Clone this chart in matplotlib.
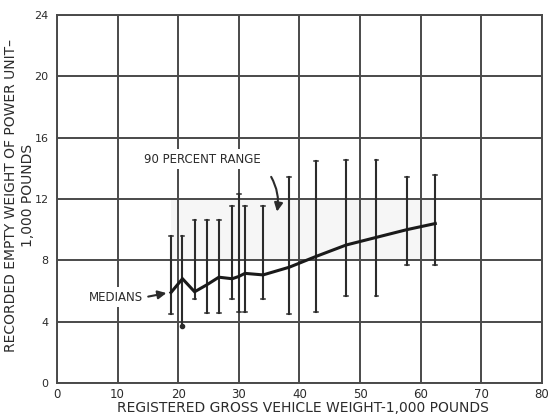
import matplotlib
matplotlib.use("Agg")
import matplotlib.pyplot as plt
from matplotlib.patches import FancyArrowPatch

# Registered gross vehicle weight (1,000 lb) for each weight class
gvw = [18.8, 20.7, 22.7, 24.7, 26.7, 28.9, 30.0, 31.0, 34.0, 38.3, 42.7, 47.7, 52.7, 57.7, 62.4]
# Upper and lower limits of the 90 percent range (1,000 lb)
range_high = [9.6, 9.6, 10.6, 10.6, 10.6, 11.55, 12.3, 11.55, 11.55, 13.45, 14.5, 14.55, 14.55, 13.45, 13.55]
range_low = [4.5, 3.7, 5.5, 4.55, 4.55, 5.5, 4.6, 4.65, 5.5, 4.5, 4.6, 5.7, 5.7, 7.7, 7.7]
# Median empty weight of power unit (1,000 lb)
medians = [5.9, 6.8, 5.95, 6.4, 6.9, 6.8, 6.95, 7.15, 7.05, 7.55, 8.25, 9.0, 9.5, 10.0, 10.4]

x_ticks = [0, 10, 20, 30, 40, 50, 60, 70, 80]
y_ticks = [0, 4, 8, 12, 16, 20, 24]

ink = "#2b2b2b"
grid_col = "#4a4a4a"

fig = plt.figure(figsize=(5.51, 4.16), dpi=100)
ax = fig.add_axes([0.1034, 0.0793, 0.8803, 0.8847])

ax.set_xlim(0, 80)
ax.set_ylim(0, 24)
ax.set_xticks(x_ticks)
ax.set_yticks(y_ticks)
ax.set_xticklabels([str(v) for v in x_ticks], fontsize=8.5, color=ink)
ax.set_yticklabels([str(v) for v in y_ticks], fontsize=8, color=ink)
ax.tick_params(axis="x", length=0, pad=3.5)
ax.tick_params(axis="y", length=0, pad=6)
ax.grid(True, color=grid_col, linewidth=1.4)
ax.set_axisbelow(True)
for s in ax.spines.values():
    s.set_color(grid_col)
    s.set_linewidth(1.4)

# faint shading of the central band
ax.fill_between([gvw[0], gvw[-1]], 8, 12, color="#f6f6f6", zorder=0.5, linewidth=0)

# 90 percent range bars
for xv, lo, hi in zip(gvw, range_low, range_high):
    ax.plot([xv, xv], [lo, hi], color=ink, linewidth=1.5, zorder=3)
    for yv in (lo, hi):
        ax.plot([xv - 0.3, xv + 0.3], [yv, yv], color=ink, linewidth=1.1, zorder=3)
ax.plot([gvw[1]], [range_low[1]], "o", color=ink, markersize=3, zorder=3)

# median line
ax.plot(gvw, medians, color="#1a1a1a", linewidth=2.2, zorder=4, solid_joinstyle="miter")

# annotations
ax.text(24.0, 14.6, "90 PERCENT RANGE", fontsize=8.5, color=ink, ha="center", va="center",
        zorder=5, bbox=dict(facecolor="white", edgecolor="none", pad=2.5))
arr1 = FancyArrowPatch((35.1, 13.6), (36.2, 11.0), connectionstyle="arc3,rad=-0.2",
                       arrowstyle="-|>,head_length=5,head_width=2.5", color=ink,
                       linewidth=1.5, zorder=5)
ax.add_patch(arr1)

ax.text(9.7, 5.6, "MEDIANS", fontsize=8.5, color=ink, ha="center", va="center",
        zorder=5, bbox=dict(facecolor="white", edgecolor="none", pad=2.5))
arr2 = FancyArrowPatch((14.6, 5.6), (18.5, 5.9), arrowstyle="-|>,head_length=5,head_width=2.5",
                       color=ink, linewidth=1.5, zorder=5)
ax.add_patch(arr2)

fig.text(0.549, 0.0195, "REGISTERED GROSS VEHICLE WEIGHT-1,000 POUNDS", fontsize=10,
         color=ink, ha="center", va="center")
fig.text(11 / 551, 0.53, "RECORDED EMPTY WEIGHT OF POWER UNIT\u2013", fontsize=10,
         color=ink, ha="center", va="center", rotation=90)
fig.text(28.5 / 551, 0.53, "1,000 POUNDS", fontsize=10,
         color=ink, ha="center", va="center", rotation=90)

fig.savefig("out.png", dpi=100)
